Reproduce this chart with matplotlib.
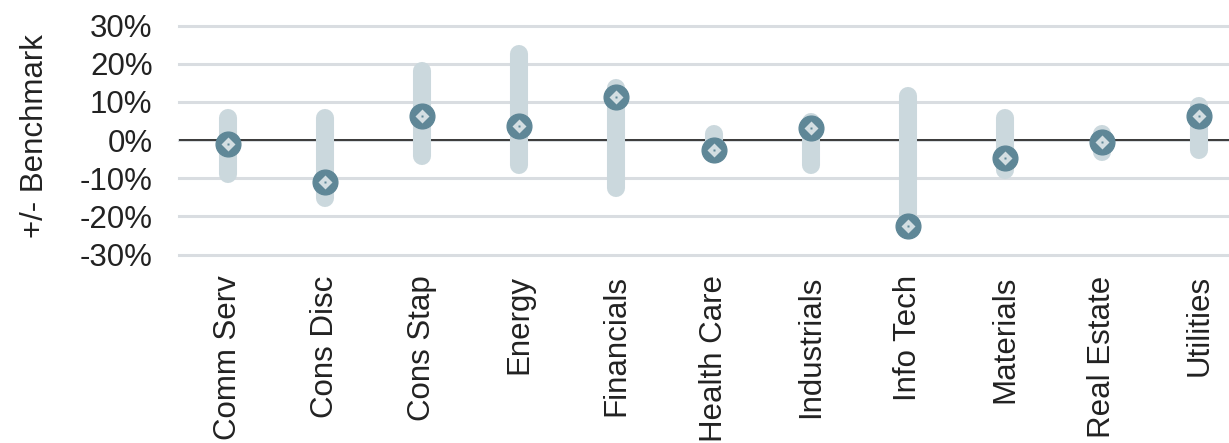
import numpy as np
import matplotlib
matplotlib.use('Agg')
import matplotlib.pyplot as plt
from matplotlib.ticker import FuncFormatter

# sector ranges vs benchmark, in %
sectors = ['Comm Serv', 'Cons Disc', 'Cons Stap', 'Energy', 'Financials', 'Health Care',
           'Industrials', 'Info Tech', 'Materials', 'Real Estate', 'Utilities']
range_high = [5.9, 5.9, 18.0, 22.7, 13.7, 1.5, 4.7, 11.5, 5.9, 1.5, 8.9]
range_low = [-9.0, -15.3, -4.1, -6.4, -12.6, -3.6, -6.4, -22.5, -7.9, -3.1, -2.7]
current = [-0.9, -11.1, 6.3, 3.7, 11.2, -2.6, 3.3, -22.5, -4.7, -0.4, 6.4]
yticks = [-30, -20, -10, 0, 10, 20, 30]

bar_col = '#cbd8dd'
dot_col = '#5f8797'
txt_col = '#222222'

plt.rcParams['font.family'] = ['Liberation Sans', 'DejaVu Sans']

fig = plt.figure(figsize=(12.29, 4.43), dpi=100)
ax = fig.add_axes([179 / 1229, 1 - 254.5 / 443, 1069 / 1229, (254.5 - 25.7) / 443])

x = np.arange(len(sectors))

# gridlines + zero line
for t in yticks:
    ax.axhline(t, color='#d9dde1', lw=2.2, zorder=0, clip_on=False)
ax.axhline(0, color='#3a3a3a', lw=1.4, zorder=1)

# range bars
lc = ax.vlines(x, range_low, range_high, color=bar_col, lw=13, zorder=2)
lc.set_capstyle('round')

# markers: dark circle, light diamond, tiny dot
ax.plot(x, current, 'o', ms=17.8, color=dot_col, mec=dot_col, zorder=3, ls='none')
ax.plot(x, current, 'D', ms=7.2, color='#d3dee2', mec='none', zorder=4, ls='none')
ax.plot(x, current, 's', ms=1.8, color=dot_col, mec='none', zorder=5, ls='none')

ax.set_xlim(-0.5, len(sectors) - 0.5)
ax.set_ylim(-30, 30)
ax.set_yticks(yticks)
ax.yaxis.set_major_formatter(FuncFormatter(lambda v, p: '{:.0f}%'.format(v)))
ax.set_xticks(x)
ax.set_xticklabels(sectors, rotation=90, va='top', ha='center')

ax.tick_params(axis='y', length=0, pad=19, labelsize=22.5, labelcolor=txt_col)
ax.tick_params(axis='x', length=0, pad=15, labelsize=22.5, labelcolor=txt_col)

for s in ax.spines.values():
    s.set_visible(False)

fig.text(35 / 1229, 1 - 136 / 443, '+/- Benchmark', rotation=90, ha='center', va='center',
         fontsize=22.5, color=txt_col)

fig.savefig('out.png', dpi=100)
